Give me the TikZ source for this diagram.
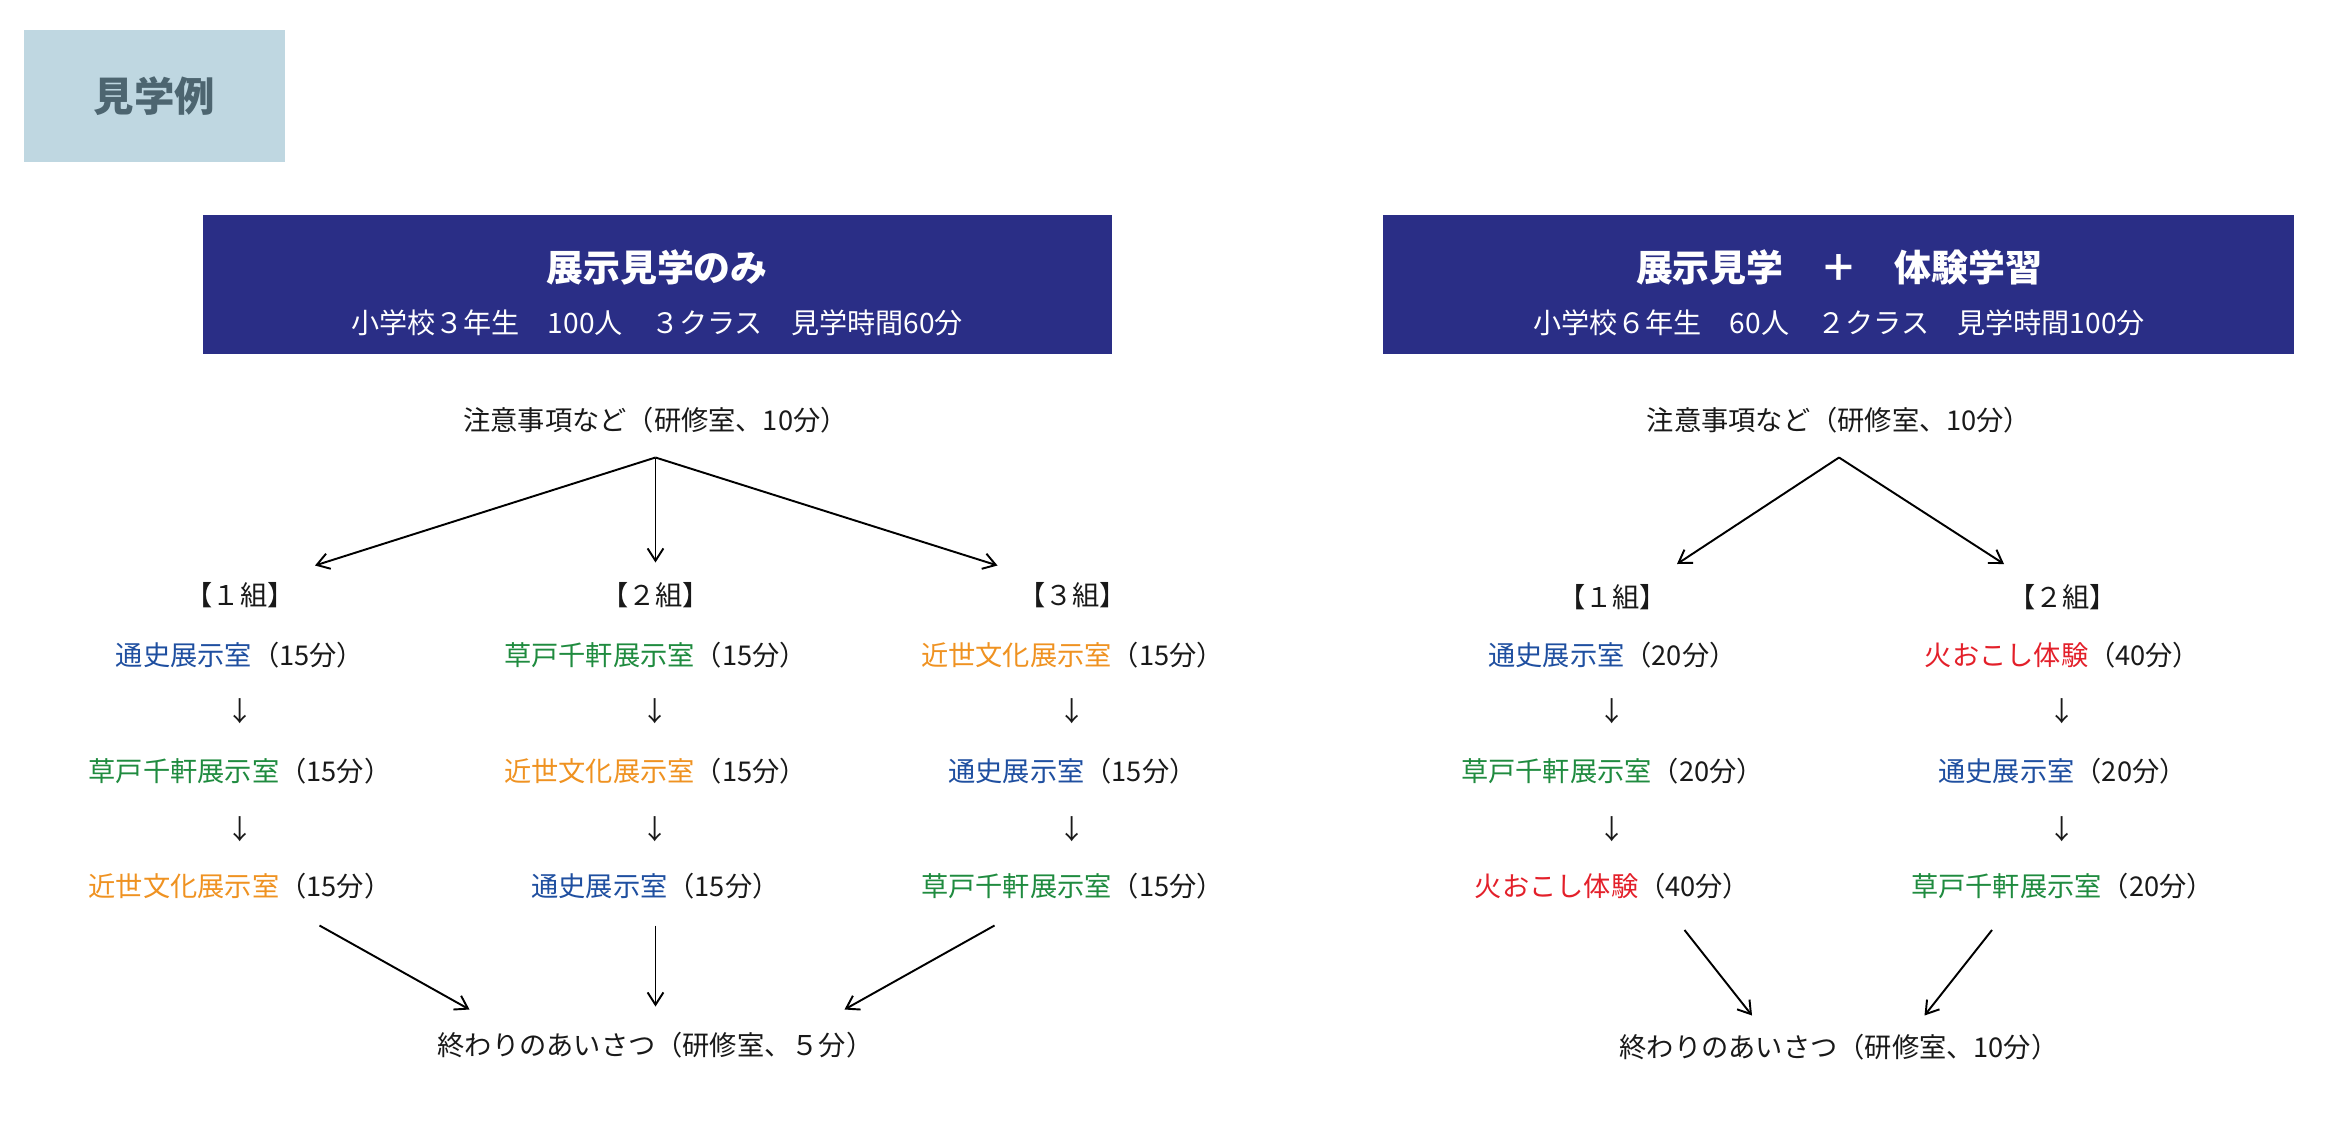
\documentclass[tikz,border=0pt]{standalone}
\usepackage{fontspec}
\setmainfont{Noto Sans CJK JP}
\newfontfamily\jpb{Noto Sans CJK JP}[BoldFont={* Bold}]
\usetikzlibrary{arrows.meta}
\definecolor{navy}{HTML}{2A2E86}
\definecolor{tbox}{HTML}{BFD7E1}
\definecolor{ttext}{HTML}{4D6570}
\definecolor{cblue}{HTML}{1F4FA0}
\definecolor{cgreen}{HTML}{1F8B3F}
\definecolor{corange}{HTML}{EF9221}
\definecolor{cred}{HTML}{E3202A}
\begin{document}
\begin{tikzpicture}[x=0.03cm,y=-0.03cm,
  t/.style={font=\fontsize{15.5}{18}\selectfont,inner sep=0pt,text=black!90},
  ar/.style={-{Straight Barb[length=7pt,width=9pt]},line width=1.1pt},
  hdr/.style={fill=navy,text=white,inner sep=0pt,align=center}]
\useasboundingbox (0,0) rectangle (1566,750);
\node[fill=tbox,minimum width=174*0.03cm,minimum height=88*0.03cm,inner sep=0pt,text=ttext,font=\fontsize{23}{26}\selectfont\bfseries] (title) at (103,64) {見学例};
% headers
\fill[navy] (135,143) rectangle (741,236);
\fill[navy] (922,143) rectangle (1529,236);
\node[text=white,font=\fontsize{21}{24}\selectfont\bfseries] (h1a) at (438,178) {展示見学のみ};
\node[text=white,font=\fontsize{16}{19}\selectfont] (h1b) at (438,215) {小学校３年生\quad 100人\quad ３クラス\quad 見学時間60分};
\node[text=white,font=\fontsize{21}{24}\selectfont\bfseries] (h2a) at (1226,178) {展示見学\quad ＋\quad 体験学習};
\node[text=white,font=\fontsize{16}{19}\selectfont] (h2b) at (1226,215) {小学校６年生\quad 60人\quad ２クラス\quad 見学時間100分};
% left
\node[t] (ls) at (437,280) {注意事項など（研修室、10分）};
\coordinate (lsa) at (437,305);
\node[t] (g1) at (160,397) {【１組】};
\node[t] (g2) at (437,397) {【２組】};
\node[t] (g3) at (715,397) {【３組】};
\draw[ar] (lsa) -- (210,377);
\draw[ar] (lsa) -- (437,375);
\draw[ar] (lsa) -- (665,377);
\foreach \x/\n in {160/a,437/b,715/c}{
 \node[t] (\n d1) at (\x,474) {↓};
 \node[t] (\n d2) at (\x,553) {↓};}
\node[t] (a1) at (160,437) {\textcolor{cblue}{通史展示室}（15分）};
\node[t] (a2) at (160,514) {\textcolor{cgreen}{草戸千軒展示室}（15分）};
\node[t] (a3) at (160,591) {\textcolor{corange}{近世文化展示室}（15分）};
\node[t] (b1) at (437,437) {\textcolor{cgreen}{草戸千軒展示室}（15分）};
\node[t] (b2) at (437,514) {\textcolor{corange}{近世文化展示室}（15分）};
\node[t] (b3) at (437,591) {\textcolor{cblue}{通史展示室}（15分）};
\node[t] (c1) at (715,437) {\textcolor{corange}{近世文化展示室}（15分）};
\node[t] (c2) at (715,514) {\textcolor{cblue}{通史展示室}（15分）};
\node[t] (c3) at (715,591) {\textcolor{cgreen}{草戸千軒展示室}（15分）};
\node[t] (le) at (437,697) {終わりのあいさつ（研修室、５分）};
\draw[ar] (213,617) -- (313,673);
\draw[ar] (437,617) -- (437,671);
\draw[ar] (663,617) -- (563,673);
% right
\node[t] (rs) at (1226,280) {注意事項など（研修室、10分）};
\coordinate (rsa) at (1226,305);
\node[t] (r1) at (1075,398) {【１組】};
\node[t] (r2) at (1375,398) {【２組】};
\draw[ar] (rsa) -- (1118,376);
\draw[ar] (rsa) -- (1336,376);
\foreach \x/\n in {1075/d,1375/e}{
 \node[t] (\n d1) at (\x,474) {↓};
 \node[t] (\n d2) at (\x,553) {↓};}
\node[t] (d1) at (1075,437) {\textcolor{cblue}{通史展示室}（20分）};
\node[t] (d2) at (1075,514) {\textcolor{cgreen}{草戸千軒展示室}（20分）};
\node[t] (d3) at (1075,591) {\textcolor{cred}{火おこし体験}（40分）};
\node[t] (e1) at (1375,437) {\textcolor{cred}{火おこし体験}（40分）};
\node[t] (e2) at (1375,514) {\textcolor{cblue}{通史展示室}（20分）};
\node[t] (e3) at (1375,591) {\textcolor{cgreen}{草戸千軒展示室}（20分）};
\node[t] (re) at (1226,698) {終わりのあいさつ（研修室、10分）};
\draw[ar] (1123,620) -- (1168,677);
\draw[ar] (1328,620) -- (1283,677);
\end{tikzpicture}
\end{document}
